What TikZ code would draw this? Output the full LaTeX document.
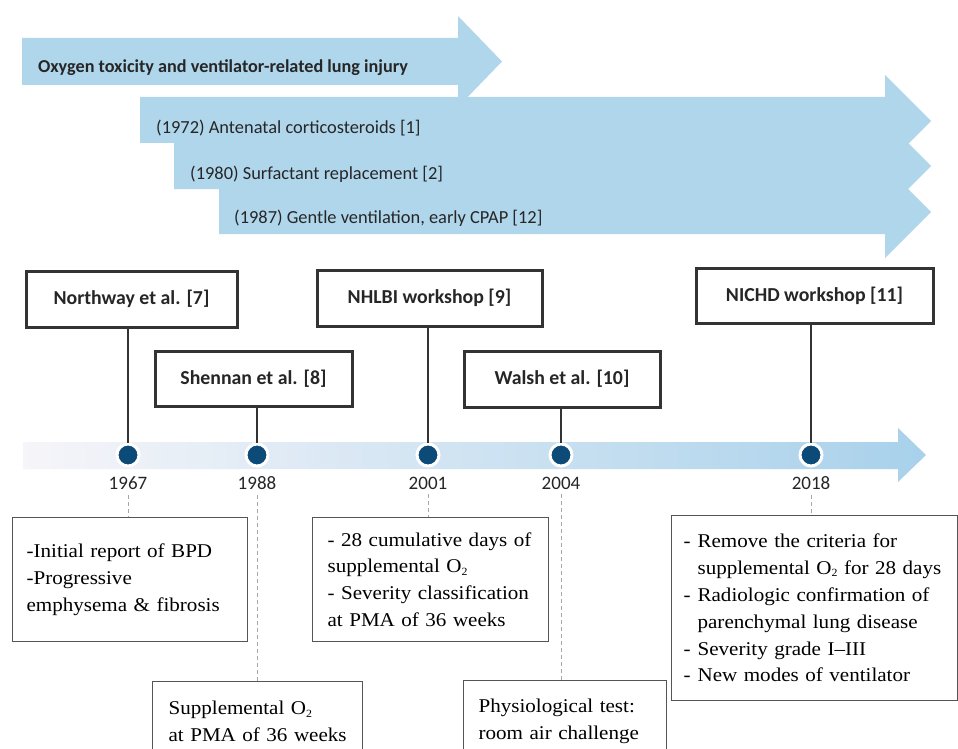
\documentclass[tikz,border=0pt]{standalone}
\usepackage{fontspec}
\setmainfont{Liberation Serif}[FakeStretch=1.08]
\newfontfamily\calfont{Carlito}
\newcommand\subtwo{\raisebox{-0.25ex}{\fontsize{11}{11}\selectfont 2}}
\definecolor{arrowblue}{HTML}{B0D6EC}
\definecolor{txtdark}{HTML}{262626}
\definecolor{boxdark}{HTML}{333333}
\definecolor{dotblue}{HTML}{0C4A78}
\definecolor{notegray}{HTML}{555555}
\definecolor{guidegray}{HTML}{A6A6A6}
\definecolor{barleft}{HTML}{F6F5F9}
\definecolor{barright}{HTML}{A8D1EB}
\begin{document}
\begin{tikzpicture}[x=1pt,y=-1pt,
  arrowfill/.style={fill=arrowblue, draw=none},
  bandtext/.style={anchor=base west, inner sep=0pt, text=txtdark, font=\calfont\fontsize{18.4}{21}\selectfont},
  evbox/.style={draw=boxdark, line width=3pt, fill=white, inner sep=0pt, text=txtdark,
     font=\calfont\bfseries\fontsize{19.8}{23}\selectfont},
  dot/.style={circle, fill=dotblue, draw=white, line width=3pt, inner sep=0pt, minimum size=22pt},
  year/.style={inner sep=1pt, text=txtdark, font=\calfont\fontsize{19}{22}\selectfont},
  note/.style={draw=notegray, line width=1.2pt, fill=white, anchor=north west, align=left,
     text=black, font=\fontsize{19.5}{26.8}\selectfont},
  stem/.style={draw=boxdark, line width=2pt},
  guide/.style={draw=guidegray, line width=1pt, dash pattern=on 4pt off 3pt}
]
\useasboundingbox (0,0) rectangle (958,749);
\clip (0,0) rectangle (958,749);
\fill[white] (0,0) rectangle (958,749);

% ---- top band arrows ----
\path[arrowfill] (22,38) -- (458,38) -- (458,16) -- (502,61.5) -- (458,107) -- (458,85) -- (22,85) -- cycle;
\path[arrowfill] (140,97) -- (885,97) -- (885,75) -- (931,121) -- (885,167) -- (885,143) -- (140,143) -- cycle;
\path[arrowfill] (174,143) -- (885,143) -- (885,120) -- (931,166) -- (885,212) -- (885,189) -- (174,189) -- cycle;
\path[arrowfill] (219,189) -- (885,189) -- (885,166) -- (931,212) -- (885,258) -- (885,234) -- (219,234) -- cycle;

\node[bandtext, font=\calfont\bfseries\fontsize{18.2}{21}\selectfont] (t0) at (38,73) {Oxygen toxicity and ventilator-related lung injury};
\node[bandtext] (t1) at (156,133) {(1972) Antenatal corticosteroids [1]};
\node[bandtext] (t2) at (190,179) {(1980) Surfactant replacement [2]};
\node[bandtext] (t3) at (234,223) {(1987) Gentle ventilation, early CPAP [12]};

% ---- timeline bar ----
\shade[left color=barleft, right color=barright]
  (23,442) -- (898,442) -- (898,428) -- (926,455) -- (898,482) -- (898,469) -- (23,469) -- cycle;

% ---- event boxes ----
\node[evbox, minimum width=211pt, minimum height=56pt] (n1) at (131.5,299) {Northway et al. [7]};
\node[evbox, minimum width=197pt, minimum height=55pt] (n2) at (253.5,378.5) {Shennan et al. [8]};
\node[evbox, minimum width=225pt, minimum height=56pt] (n3) at (429.5,298) {NHLBI workshop [9]};
\node[evbox, minimum width=196pt, minimum height=56pt] (n4) at (562,379) {Walsh et al. [10]};
\node[evbox, minimum width=237pt, minimum height=55pt] (n5) at (814.5,295.5) {NICHD workshop [11]};

% ---- dots ----
\node[dot] (d1) at (128,455) {};
\node[dot] (d2) at (257,455) {};
\node[dot] (d3) at (428,455) {};
\node[dot] (d4) at (561,455) {};
\node[dot] (d5) at (811,455) {};

\foreach \i in {1,...,5}{
  \draw[stem] (n\i.south -| d\i) -- (d\i.north);
}

% ---- years ----
\node[year] (y1) at (128,483) {1967};
\node[year] (y2) at (257,483) {1988};
\node[year] (y3) at (428,483) {2001};
\node[year] (y4) at (561,483) {2004};
\node[year] (y5) at (811,483) {2018};

% ---- note boxes ----
\node[note, minimum width=235pt, minimum height=124pt, inner xsep=14pt, text width=207pt] (b1) at (12,517)
 {\mbox{-Initial report of BPD}\\ \mbox{-Progressive}\\ \mbox{emphysema \& fibrosis}};
\node[note, minimum width=210pt, minimum height=80pt, inner xsep=16pt, text width=178pt] (b2) at (152,681)
 {\mbox{Supplemental O\subtwo}\\ \mbox{at PMA of 36 weeks}};
\node[note, minimum width=236pt, minimum height=124pt, inner xsep=15pt, text width=206pt] (b3) at (312,517)
 {\mbox{- 28 cumulative days of}\\ \mbox{supplemental O\subtwo}\\ \mbox{- Severity classification}\\ \mbox{at PMA of 36 weeks}};
\node[note, minimum width=203pt, minimum height=81pt, inner xsep=15pt, text width=173pt] (b4) at (463,680)
 {\mbox{Physiological test:}\\ \mbox{room air challenge}};
\node[note, minimum width=286pt, minimum height=185pt, inner xsep=12pt, text width=262pt] (b5) at (671,515)
 {\mbox{\makebox[14pt][l]{-}Remove the criteria for}\\
  \mbox{\hspace*{14pt}supplemental O\subtwo{} for 28 days}\\
  \mbox{\makebox[14pt][l]{-}Radiologic confirmation of}\\
  \mbox{\hspace*{14pt}parenchymal lung disease}\\
  \mbox{\makebox[14pt][l]{-}Severity grade I--III}\\
  \mbox{\makebox[14pt][l]{-}New modes of ventilator}};

% ---- dashed guides ----
\foreach \i in {1,...,5}{
  \draw[guide, shorten <=4pt] (y\i.south) -- (y\i.south |- b\i.north);
}
\end{tikzpicture}
\end{document}
